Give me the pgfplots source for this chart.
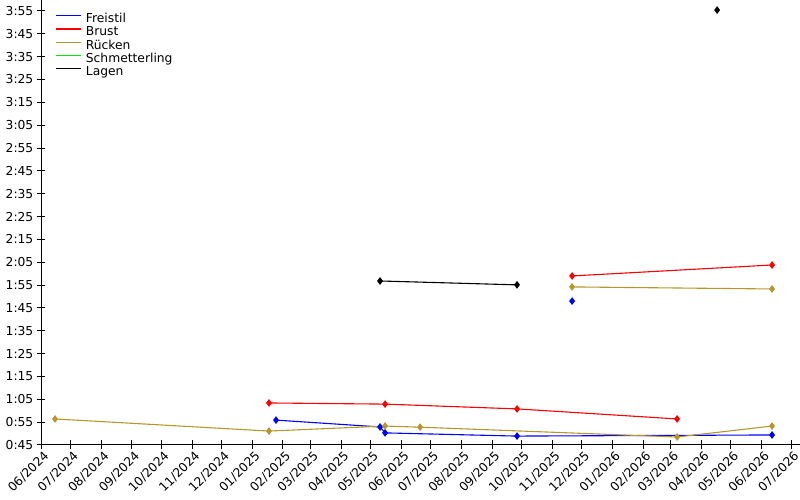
\documentclass[border=0pt]{standalone}
\usepackage{pgfplots}
\pgfplotsset{compat=1.18}
\usepackage{fontspec}
\setmainfont{DejaVu Sans}
\definecolor{ruecken}{RGB}{184,150,46}
\definecolor{schm}{RGB}{0,230,0}
\begin{document}
\fontsize{12.3pt}{14pt}\selectfont
\begin{tikzpicture}
\useasboundingbox (-41pt,-55pt) rectangle (759pt,445pt);
\begin{axis}[
  scale only axis,
  width=759pt, height=445pt,
  xmin=0, xmax=769, ymin=45, ymax=239.8,
  axis x line=bottom, axis y line=left,
  axis line style={-, line width=1pt},
  tick align=center, major tick length=9pt,
  tick style={line width=1pt, black},
  xtick={0,30,61,92,122,153,183,214,245,273,304,334,365,395,426,457,487,518,548,579,610,638,669,699,730,760},
  xticklabels={06/2024,07/2024,08/2024,09/2024,10/2024,11/2024,12/2024,01/2025,02/2025,03/2025,04/2025,05/2025,06/2025,07/2025,08/2025,09/2025,10/2025,11/2025,12/2025,01/2026,02/2026,03/2026,04/2026,05/2026,06/2026,07/2026},
  xticklabel style={rotate=45, anchor=east, inner sep=1pt, xshift=2pt, yshift=-7pt},
  ytick={45,55,...,235},
  yticklabels={0:45,0:55,1:05,1:15,1:25,1:35,1:45,1:55,2:05,2:15,2:25,2:35,2:45,2:55,3:05,3:15,3:25,3:35,3:45,3:55},
  yticklabel style={inner sep=1pt, xshift=-2pt},
  legend cell align=left,
  legend style={draw=none, fill=none, at={(rel axis cs:0,1)}, xshift=14pt, yshift=-13pt, anchor=north west, inner sep=0pt,
    nodes={inner sep=0.5pt, text height=9pt, text depth=3.2pt}, row sep=0pt,
    /tikz/every odd column/.append style={column sep=4pt}},
  legend image code/.code={\draw[#1, line width=1.2pt] (0pt,4pt) -- (25pt,4pt);},
  every axis plot/.append style={line width=1.1pt, mark=diamond*, mark size=3pt, mark options={solid}},
]
\addlegendimage{blue}
\addlegendentry{Freistil}
\addlegendimage{red}
\addlegendentry{Brust}
\addlegendimage{ruecken}
\addlegendentry{Rücken}
\addlegendimage{schm}
\addlegendentry{Schmetterling}
\addlegendimage{black}
\addlegendentry{Lagen}
% Freistil
\addplot[blue, forget plot] coordinates {(238.1,55.9) (343.5,52.9) (348.6,50.3) (482.3,48.9) (740.7,49.4)};
% Brust
\addplot[red, forget plot] coordinates {(231.0,63.4) (348.6,62.9) (482.3,60.8) (644.5,56.4)};
% Rücken
\addplot[ruecken, forget plot] coordinates {(14.2,56.4) (231.0,51.1) (348.6,53.3) (384.1,52.8) (644.5,48.5) (740.7,53.3)};
% Lagen
\addplot[black, forget plot] coordinates {(343.5,116.8) (482.3,115.1)};
% further distances
\addplot[blue, forget plot] coordinates {(538.1,108.0)};
\addplot[red, forget plot] coordinates {(538.1,119.0) (740.7,123.8)};
\addplot[ruecken, forget plot] coordinates {(538.1,114.2) (740.7,113.3)};
\addplot[black, forget plot] coordinates {(685.0,235.4)};
\end{axis}
\end{tikzpicture}
\end{document}
